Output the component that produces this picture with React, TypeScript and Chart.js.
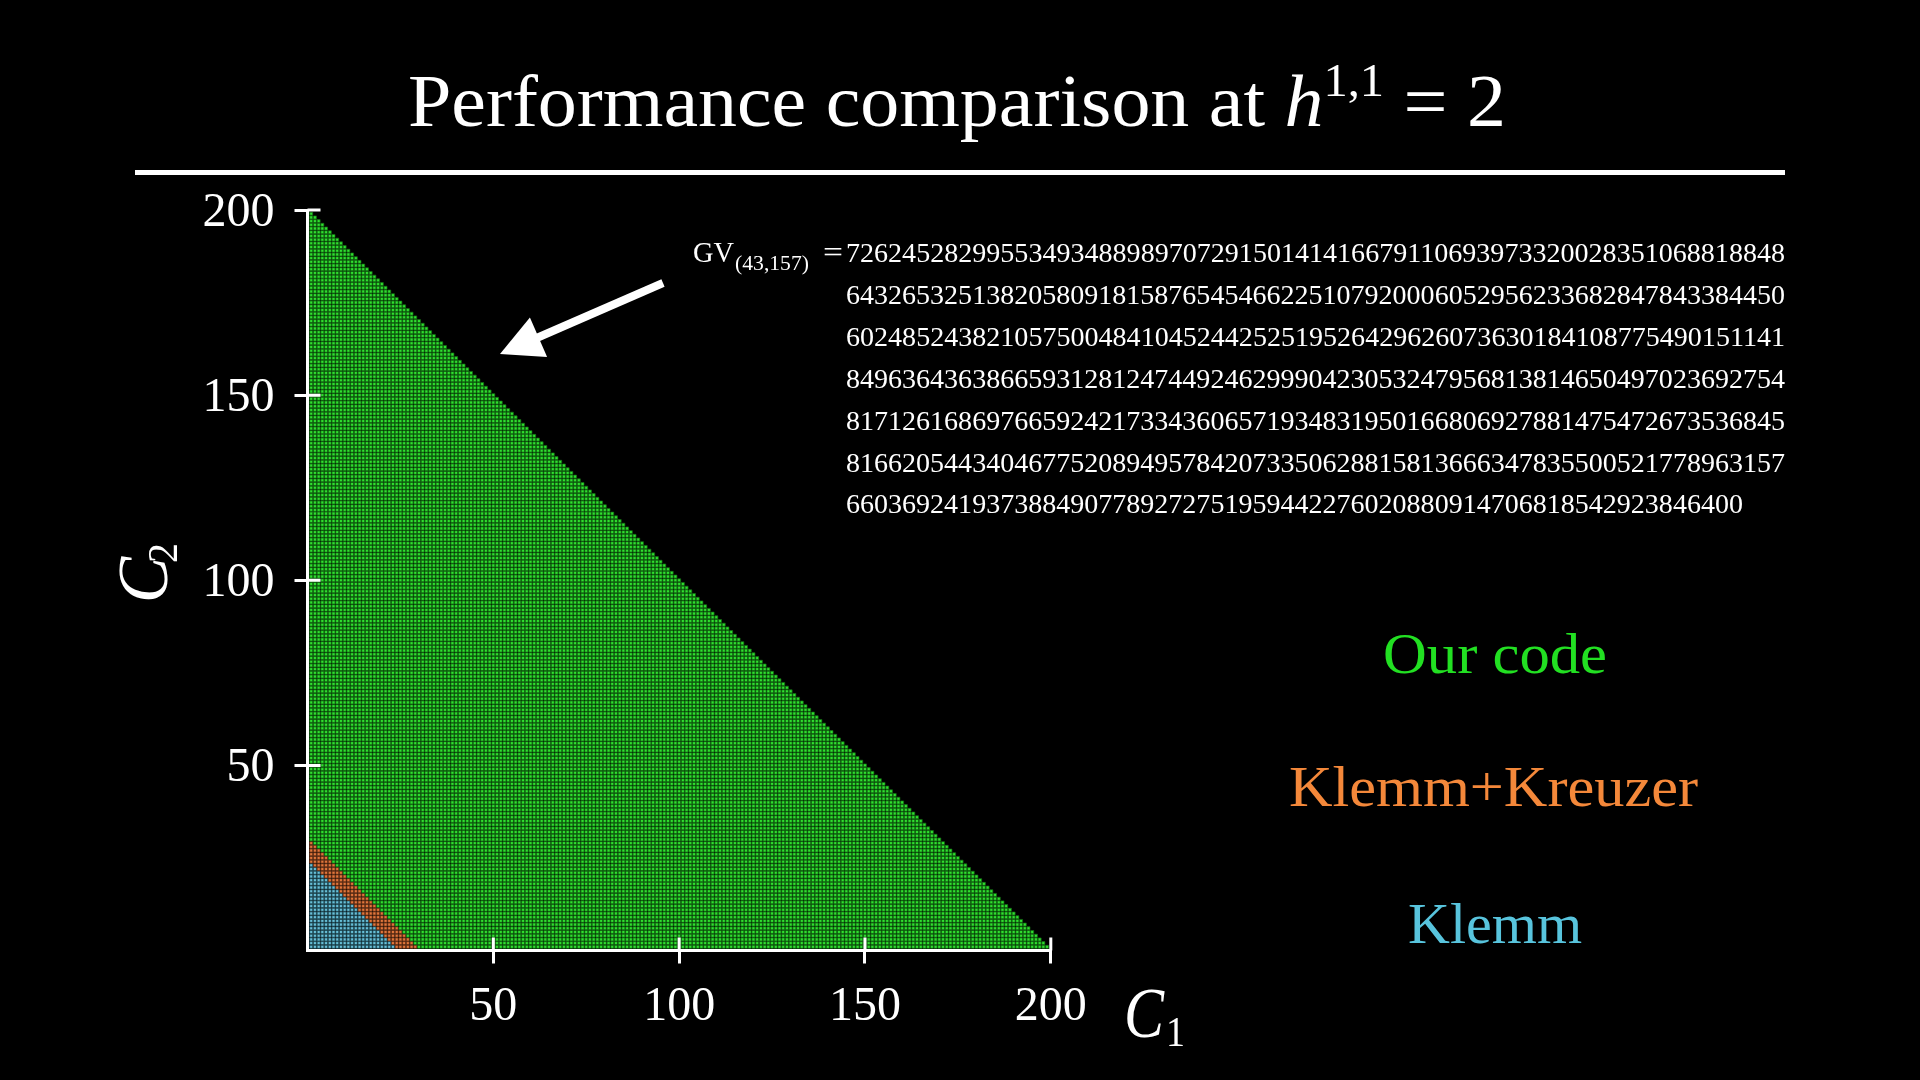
import React, { useEffect, useRef } from "react";
import { Chart, registerables } from "chart.js";

Chart.register(...registerables);

// ---------- data ----------
const seriesNames = ["Our code", "Klemm+Kreuzer", "Klemm"];
// largest c1 + c2 reached by each code (lattice points with c1, c2 >= 1)
const seriesMaxSum = [200, 30, 24];
const seriesFill = ["#30e030", "#e2773c", "#68c0d8"];
const seriesGap = ["#136a13", "#6a3318", "#23505c"];
const labelColors = ["#22e022", "#f4883a", "#58c4dd"];
const xTickValues = [50, 100, 150, 200];
const yTickValues = [50, 100, 150, 200];
const axisMin = 0;
const axisMax = 200;
const xAxisTitle = "C";
const xAxisSub = "1";
const yAxisTitle = "C";
const yAxisSub = "2";
const titleMain = "Performance comparison at ";
const titleVar = "h";
const titleSup = "1,1";
const titleEnd = " = 2";
const gvLabel = "GV";
const gvIndex = "(43,157)";
const gvEquals = "=";
const gvDigits = [
  "7262452829955349348898970729150141416679110693973320028351068818848",
  "6432653251382058091815876545466225107920006052956233682847843384450",
  "6024852438210575004841045244252519526429626073630184108775490151141",
  "8496364363866593128124744924629990423053247956813814650497023692754",
  "8171261686976659242173343606571934831950166806927881475472673536845",
  "8166205443404677520894957842073350628815813666347835500521778963157",
  "6603692419373884907789272751959442276020880914706818542923846400",
];

const SERIF = '"Liberation Serif", "DejaVu Serif", serif';

type Run = { text: string; size: number; italic?: boolean; dy?: number };

function runFont(r: Run) {
  return `${r.italic ? "italic " : ""}${r.size}px ${SERIF}`;
}

function runsWidth(ctx: CanvasRenderingContext2D, runs: Run[]) {
  let w = 0;
  for (const r of runs) {
    ctx.font = runFont(r);
    w += ctx.measureText(r.text).width;
  }
  return w;
}

// draws runs starting at x (left) on baseline y, stretched to targetWidth
function drawRuns(
  ctx: CanvasRenderingContext2D,
  runs: Run[],
  x: number,
  y: number,
  color: string,
  targetWidth?: number
) {
  const natural = runsWidth(ctx, runs);
  const sx = targetWidth ? targetWidth / natural : 1;
  ctx.save();
  ctx.translate(x, y);
  ctx.scale(sx, 1);
  ctx.fillStyle = color;
  ctx.textBaseline = "alphabetic";
  ctx.textAlign = "left";
  let cx = 0;
  for (const r of runs) {
    ctx.font = runFont(r);
    ctx.fillText(r.text, cx, r.dy || 0);
    cx += ctx.measureText(r.text).width;
  }
  ctx.restore();
}

const overlayPlugin = {
  id: "overlay",
  afterDraw(chart: any) {
    const ctx: CanvasRenderingContext2D = chart.ctx;
    const xs = chart.scales.x;
    const ys = chart.scales.y;
    const area = chart.chartArea;

    // inner halves of the tick marks (ticks cross the axis)
    ctx.save();
    ctx.strokeStyle = "#ffffff";
    ctx.lineWidth = 3;
    ctx.beginPath();
    for (const v of xTickValues) {
      const px = xs.getPixelForValue(v);
      ctx.moveTo(px, area.bottom);
      ctx.lineTo(px, area.bottom - 13);
    }
    for (const v of yTickValues) {
      const py = ys.getPixelForValue(v);
      ctx.moveTo(area.left, py);
      ctx.lineTo(area.left + 13, py);
    }
    ctx.stroke();
    ctx.restore();

    // title + rule
    drawRuns(
      ctx,
      [
        { text: titleMain, size: 74 },
        { text: titleVar, size: 74, italic: true },
        { text: titleSup, size: 46, dy: -30 },
        { text: titleEnd, size: 74 },
      ],
      408,
      126,
      "#ffffff",
      1098
    );
    ctx.save();
    ctx.fillStyle = "#ffffff";
    ctx.fillRect(135, 170, 1650, 5);
    ctx.restore();

    // GV annotation
    const base0 = 262;
    const step = 41.9;
    drawRuns(ctx, [{ text: gvLabel, size: 29 }], 693, base0, "#ffffff", 41);
    drawRuns(ctx, [{ text: gvIndex, size: 20 }], 735, base0 + 8, "#ffffff", 74);
    drawRuns(ctx, [{ text: gvEquals, size: 29 }], 823, base0, "#ffffff", 20);
    gvDigits.forEach((line, i) => {
      const w = (line.length / gvDigits[0].length) * (1785 - 846);
      drawRuns(ctx, [{ text: line, size: 28 }], 846, base0 + i * step, "#ffffff", w);
    });

    // arrow
    const tail = { x: 663, y: 283 };
    const tip = { x: 500, y: 354 };
    const dx = tip.x - tail.x;
    const dy = tip.y - tail.y;
    const len = Math.hypot(dx, dy);
    const ux = dx / len;
    const uy = dy / len;
    const headLen = 42;
    const headHalf = 21.5;
    const bx = tip.x - ux * headLen;
    const by = tip.y - uy * headLen;
    ctx.save();
    ctx.strokeStyle = "#ffffff";
    ctx.fillStyle = "#ffffff";
    ctx.lineWidth = 8;
    ctx.beginPath();
    ctx.moveTo(tail.x, tail.y);
    ctx.lineTo(bx + ux * 2, by + uy * 2);
    ctx.stroke();
    ctx.beginPath();
    ctx.moveTo(tip.x, tip.y);
    ctx.lineTo(bx - uy * headHalf, by + ux * headHalf);
    ctx.lineTo(bx + uy * headHalf, by - ux * headHalf);
    ctx.closePath();
    ctx.fill();
    ctx.restore();

    // series labels
    const labelPos = [
      { cx: 1495, base: 673, w: 224 },
      { cx: 1493.5, base: 806, w: 409 },
      { cx: 1495, base: 943, w: 174 },
    ];
    seriesNames.forEach((name, i) => {
      const p = labelPos[i];
      drawRuns(ctx, [{ text: name, size: 56 }], p.cx - p.w / 2, p.base, labelColors[i], p.w);
    });

    // x axis title C_1
    drawRuns(ctx, [{ text: xAxisTitle, size: 72, italic: true }], 1124, 1037, "#ffffff", 40);
    drawRuns(ctx, [{ text: xAxisSub, size: 43 }], 1166, 1046, "#ffffff", 19);

    // y axis title C_2 (rotated)
    ctx.save();
    ctx.translate(167, 603);
    ctx.rotate(-Math.PI / 2);
    drawRuns(ctx, [{ text: yAxisTitle, size: 72, italic: true }], 0, 0, "#ffffff", 46);
    drawRuns(ctx, [{ text: yAxisSub, size: 43 }], 40, 10, "#ffffff", 20);
    ctx.restore();
  },
};

export default function App() {
  const ref = useRef<HTMLCanvasElement>(null);

  useEffect(() => {
    document.body.style.margin = "0";
    document.body.style.background = "#000";
    const canvas = ref.current;
    if (!canvas) return;

    const datasets = seriesNames.map((name, i) => {
      const hi = seriesMaxSum[i];
      const lo = i + 1 < seriesMaxSum.length ? seriesMaxSum[i + 1] : 0;
      const data: { x: number; y: number }[] = [];
      for (let c2 = 1; c2 < hi; c2++) {
        for (let c1 = 1; c1 + c2 <= hi; c1++) {
          if (c1 + c2 > lo) data.push({ x: c1, y: c2 });
        }
      }
      return {
        label: name,
        data,
        pointStyle: "rect" as const,
        pointRadius: 2.1,
        pointHoverRadius: 2.1,
        backgroundColor: seriesFill[i],
        borderColor: seriesGap[i],
        borderWidth: 0.7,
      };
    });

    const tickFont = { family: SERIF, size: 48 };

    const chart = new Chart(canvas, {
      type: "scatter",
      data: { datasets },
      options: {
        responsive: false,
        animation: false,
        devicePixelRatio: 1,
        events: [],
        layout: { padding: { top: 210, right: 1920 - 1050.8, left: 0, bottom: 0 } },
        plugins: {
          legend: { display: false },
          tooltip: { enabled: false },
          title: { display: false },
        },
        scales: {
          x: {
            type: "linear",
            min: axisMin,
            max: axisMax,
            afterBuildTicks: (scale: any) => {
              scale.ticks = xTickValues.map((v) => ({ value: v }));
            },
            afterFit: (scale: any) => {
              scale.height = 1080 - 950.5;
            },
            ticks: {
              color: "#ffffff",
              font: tickFont,
              padding: 15,
              maxRotation: 0,
              autoSkip: false,
            },
            grid: {
              display: true,
              drawOnChartArea: false,
              drawTicks: true,
              tickLength: 13,
              color: "#ffffff",
              lineWidth: 3,
            },
            border: { display: true, color: "#ffffff", width: 3 },
          },
          y: {
            type: "linear",
            min: axisMin,
            max: axisMax,
            afterBuildTicks: (scale: any) => {
              scale.ticks = yTickValues.map((v) => ({ value: v }));
            },
            afterFit: (scale: any) => {
              scale.width = 307.5;
            },
            ticks: {
              color: "#ffffff",
              font: tickFont,
              padding: 20,
              labelOffset: 3,
              autoSkip: false,
            },
            grid: {
              display: true,
              drawOnChartArea: false,
              drawTicks: true,
              tickLength: 13,
              color: "#ffffff",
              lineWidth: 3,
            },
            border: { display: true, color: "#ffffff", width: 3 },
          },
        },
      },
      plugins: [overlayPlugin],
    });

    return () => chart.destroy();
  }, []);

  return (
    <div style={{ width: 1920, height: 1080, background: "#000", position: "relative", overflow: "hidden" }}>
      <canvas ref={ref} width={1920} height={1080} style={{ width: 1920, height: 1080, display: "block" }} />
    </div>
  );
}
